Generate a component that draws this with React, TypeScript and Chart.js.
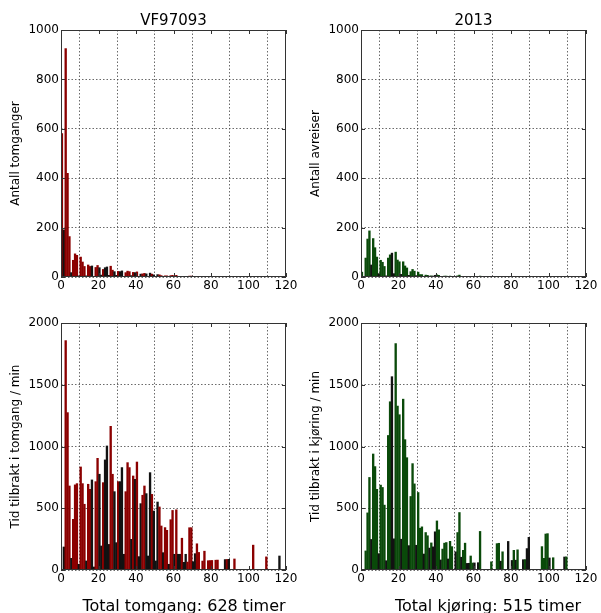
import React, { useEffect, useRef } from "react";
import { Chart, registerables } from "chart.js";

Chart.register(...registerables);
Chart.defaults.font.family = "'DejaVu Sans', sans-serif";
Chart.defaults.color = "#000";

// ---------- data (bin k = duration in minutes, bin spans [k, k+1)) ----------
const idleCounts = [
  582, 192, 926, 421, 165, 19, 69, 95, 89, 6,
  82, 62, 44, 6, 50, 44, 46, 2, 40, 48,
  39, 9, 32, 39, 42, 8, 45, 29, 23, 8,
  24, 23, 26, 4, 19, 25, 23, 7, 20, 19,
  22, 3, 13, 14, 16, 14, 3, 17, 13, 10,
  2, 11, 10, 7, 3, 6, 6, 1, 7, 8,
  2, 8, 2, 2, 4, 1, 2, 1, 5, 5,
  1, 2, 3, 2, 0, 1, 2, 0, 1, 1,
  1, 0, 1, 1, 0, 0, 0, 1, 1, 1,
  0, 0, 1, 0, 0, 0, 0, 0, 0, 0,
  0, 0, 2, 0, 0, 0, 0, 0, 0, 1,
  0, 0, 0, 0, 0, 0, 1,
];

const idleMinutes = [
  0, 189, 1860, 1277, 683, 97, 413, 692, 702, 49,
  837, 702, 535, 76, 697, 656, 732, 27, 718, 907,
  778, 197, 710, 894, 1007, 210, 1166, 778, 637, 224,
  718, 718, 832, 130, 637, 872, 832, 251, 764, 737,
  877, 111, 540, 608, 683, 621, 116, 791, 615, 480,
  76, 553, 513, 359, 143, 346, 324, 49, 410, 485,
  130, 490, 130, 130, 260, 65, 130, 67, 345, 345,
  70, 135, 215, 145, 0, 75, 155, 0, 78, 79,
  80, 0, 82, 83, 0, 0, 0, 87, 88, 89,
  0, 0, 92, 0, 0, 0, 0, 0, 0, 0,
  0, 0, 204, 0, 0, 0, 0, 0, 0, 109,
  0, 0, 0, 0, 0, 0, 116,
];

const driveCounts = [
  21, 0, 78, 155, 188, 50, 157, 120, 82, 15,
  69, 61, 44, 6, 78, 91, 98, 15, 102, 70,
  63, 12, 63, 46, 38, 8, 23, 32, 25, 7,
  21, 11, 11, 4, 9, 8, 5, 6, 5, 8,
  10, 8, 2, 4, 5, 5, 2, 5, 4, 0,
  3, 6, 9, 2, 3, 4, 1, 1, 2, 1,
  1, 0, 1, 5, 0, 0, 0, 0, 0, 1,
  0, 0, 3, 3, 1, 2, 0, 0, 3, 0,
  1, 2, 1, 2, 0, 0, 1, 1, 2, 3,
  0, 0, 0, 0, 0, 0, 2, 1, 3, 3,
  1, 0, 1, 0, 0, 0, 0, 0, 1, 1,
];

const driveMinutes = [
  0, 0, 157, 465, 752, 250, 942, 840, 656, 135,
  690, 671, 528, 78, 1092, 1365, 1568, 255, 1836, 1330,
  1260, 252, 1386, 1058, 912, 200, 598, 864, 700, 203,
  630, 341, 352, 132, 306, 280, 180, 222, 190, 312,
  400, 328, 84, 172, 220, 225, 92, 235, 192, 0,
  150, 306, 468, 106, 162, 220, 56, 57, 116, 59,
  60, 0, 62, 315, 0, 0, 0, 0, 0, 69,
  0, 0, 216, 219, 74, 150, 0, 0, 234, 0,
  80, 162, 82, 166, 0, 0, 86, 87, 176, 267,
  0, 0, 0, 0, 0, 0, 192, 97, 294, 297,
  100, 0, 102, 0, 0, 0, 0, 0, 108, 109,
];

// bins that render as dark (narrow) bars in the original
const idleNarrowBins = [1, 5, 9, 13, 16, 17, 20, 21, 23, 24, 25, 28, 29, 31, 32, 33, 37, 39, 41, 42, 45, 46, 47, 49, 50, 51, 54, 57, 60, 62, 63, 65, 66, 70, 71, 87, 89, 116];
const driveNarrowBins = [5, 9, 13, 16, 17, 21, 25, 29, 33, 36, 38, 39, 42, 46, 50, 53, 56, 57, 60, 62, 74, 78, 80, 82, 86, 88, 89, 100, 108];

const xTicks = { min: 0, max: 120, step: 20 };
const countTicks = { max: 1000, step: 200 };
const minuteTicks = { max: 2000, step: 500 };

const RED = "#8b0000";
const GREEN = "#0a4a0a";
const DARK = "#121212";

const framePlugin = {
  id: "frame",
  afterDraw(chart: any, _args: any, opts: any) {
    const { ctx, chartArea: a, scales } = chart;
    ctx.save();
    ctx.strokeStyle = "#333";
    ctx.lineWidth = 1;
    ctx.strokeRect(a.left + 0.5, a.top + 0.5, a.right - a.left - 1, a.bottom - a.top - 1);
    const tl = 4;
    ctx.beginPath();
    scales.x.ticks.forEach((t: any) => {
      const px = Math.round(scales.x.getPixelForValue(t.value)) + 0.5;
      ctx.moveTo(px, a.bottom);
      ctx.lineTo(px, a.bottom - tl);
      ctx.moveTo(px, a.top);
      ctx.lineTo(px, a.top + tl);
    });
    scales.y.ticks.forEach((t: any) => {
      const py = Math.round(scales.y.getPixelForValue(t.value)) + 0.5;
      ctx.moveTo(a.left, py);
      ctx.lineTo(a.left + tl, py);
      ctx.moveTo(a.right, py);
      ctx.lineTo(a.right - tl, py);
    });
    ctx.stroke();
    if (opts && opts.caption) {
      ctx.fillStyle = "#000";
      ctx.font = "16px 'DejaVu Sans', sans-serif";
      ctx.textAlign = "center";
      ctx.textBaseline = "alphabetic";
      ctx.fillText(opts.caption, opts.captionX, opts.captionY);
    }
    ctx.restore();
  },
};

type PanelProps = {
  x: number;
  y: number;
  w: number;
  h: number;
  values: number[];
  narrow: number[];
  color: string;
  yMax: number;
  yStep: number;
  yTitle: string;
  title?: string;
  caption?: string;
  captionX?: number;
  captionY?: number;
  padTop: number;
  padRight: number;
  xAxisHeight: number;
};

function Panel(p: PanelProps) {
  const ref = useRef<HTMLCanvasElement>(null);
  useEffect(() => {
    const narrow = new Set(p.narrow);
    const chart = new Chart(ref.current as HTMLCanvasElement, {
      type: "bar",
      data: {
        datasets: [
          {
            // bar centred in its one-minute bin
            data: p.values.map((v, k) => ({ x: k + 0.5, y: v })) as any,
            backgroundColor: (c: any) => (narrow.has(c.dataIndex) ? DARK : p.color),
            borderWidth: 0,
            barPercentage: 1.25,
            categoryPercentage: 1,
          },
        ],
      },
      options: {
        responsive: false,
        animation: false,
        devicePixelRatio: 1,
        layout: { padding: { top: p.padTop, right: p.padRight, bottom: 0, left: 0 } },
        plugins: {
          legend: { display: false },
          tooltip: { enabled: false },
          title: {
            display: !!p.title,
            text: p.title || "",
            fullSize: false,
            color: "#000",
            font: { size: 15, weight: "normal" },
            padding: { top: 12, bottom: 0 },
          },
          frame: { caption: p.caption, captionX: p.captionX, captionY: p.captionY },
        } as any,
        scales: {
          x: {
            type: "linear",
            min: xTicks.min,
            max: xTicks.max,
            offset: false,
            z: 1,
            ticks: {
              stepSize: xTicks.step,
              color: "#000",
              font: { size: 12 },
              padding: 2,
              maxRotation: 0,
              callback: (v: any) => String(v),
            },
            grid: { color: "#444", lineWidth: 0.8, drawTicks: false },
            border: { display: false, dash: [1.5, 2] },
            afterFit: (s: any) => {
              s.height = p.xAxisHeight;
            },
          },
          y: {
            min: 0,
            max: p.yMax,
            z: 1,
            ticks: {
              stepSize: p.yStep,
              color: "#000",
              font: { size: 12 },
              padding: 2,
              callback: (v: any) => String(v),
            },
            grid: { color: "#444", lineWidth: 0.8, drawTicks: false },
            border: { display: false, dash: [1.5, 2] },
            title: {
              display: true,
              text: p.yTitle,
              color: "#000",
              font: { size: 12 },
              padding: { top: 9, bottom: 0 },
            },
            afterFit: (s: any) => {
              s.width = 61;
            },
          },
        } as any,
      },
      plugins: [framePlugin as any],
    });
    return () => chart.destroy();
  }, []);
  return (
    <canvas
      ref={ref}
      width={p.w}
      height={p.h}
      style={{ position: "absolute", left: p.x, top: p.y, width: p.w, height: p.h }}
    />
  );
}

export default function App() {
  return (
    <div style={{ position: "absolute", left: 0, top: 0, width: 601, height: 613, background: "#fff", overflow: "hidden" }}>
      <Panel
        x={0} y={0} w={300} h={300}
        values={idleCounts} narrow={idleNarrowBins} color={RED}
        yMax={countTicks.max} yStep={countTicks.step}
        yTitle="Antall tomganger" title="VF97093"
        padTop={0} padRight={14} xAxisHeight={23}
      />
      <Panel
        x={300} y={0} w={301} h={300}
        values={driveCounts} narrow={driveNarrowBins} color={GREEN}
        yMax={countTicks.max} yStep={countTicks.step}
        yTitle="Antall avreiser" title="2013"
        padTop={0} padRight={15} xAxisHeight={23}
      />
      <Panel
        x={0} y={300} w={300} h={313}
        values={idleMinutes} narrow={idleNarrowBins} color={RED}
        yMax={minuteTicks.max} yStep={minuteTicks.step}
        yTitle="Tid tilbrakt i tomgang / min"
        caption="Total tomgang: 628 timer" captionX={184} captionY={311}
        padTop={23} padRight={14} xAxisHeight={43}
      />
      <Panel
        x={300} y={300} w={301} h={313}
        values={driveMinutes} narrow={driveNarrowBins} color={GREEN}
        yMax={minuteTicks.max} yStep={minuteTicks.step}
        yTitle="Tid tilbrakt i kjøring / min"
        caption="Total kjøring: 515 timer" captionX={188} captionY={311}
        padTop={23} padRight={15} xAxisHeight={43}
      />
    </div>
  );
}
